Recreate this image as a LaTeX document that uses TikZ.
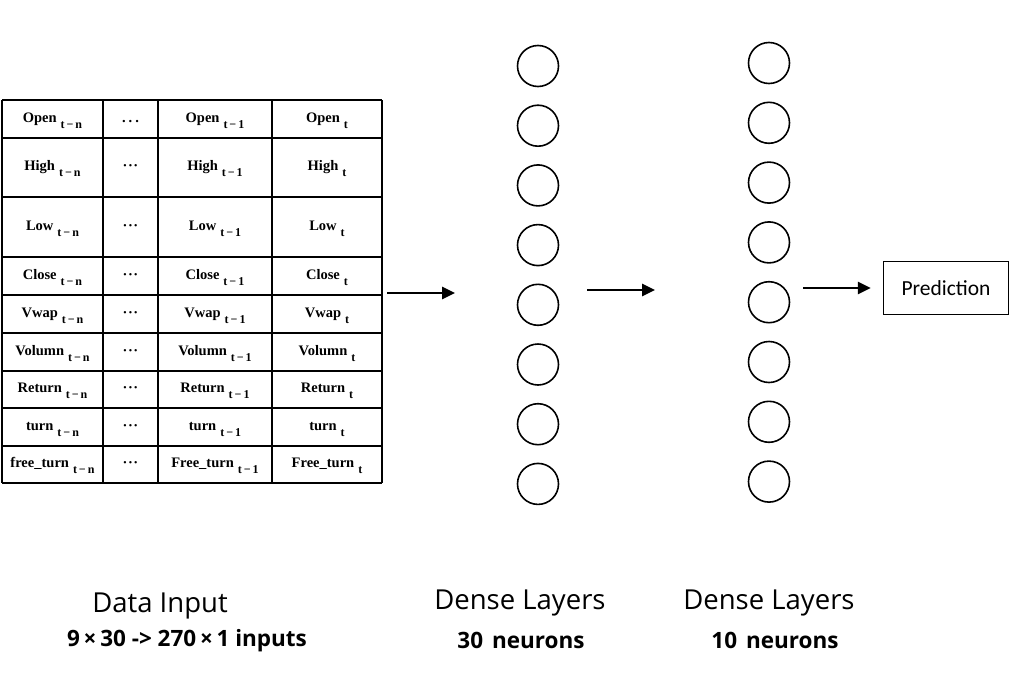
\documentclass[tikz,border=0pt]{standalone}
\usepackage{fontspec}
\setmainfont{Liberation Serif}
\newfontfamily\labelfont{Open Sans}
\newfontfamily\boxfont{Carlito}
\usetikzlibrary{arrows.meta}

\newcommand{\tsub}[1]{\hspace{4pt}\raisebox{-6pt}{\fontsize{12}{12}\selectfont\bfseries #1}}
\newcommand{\tmin}{\,−\,}
\newcommand{\dotswide}{.\hspace{3pt}.\hspace{3pt}.}
\newcommand{\dotsmid}{·\kern0.5pt·\kern0.5pt·}

\begin{document}
\begin{tikzpicture}[x=1pt, y=-1pt,
    cell/.style={anchor=base, inner sep=0pt, font=\fontsize{14.5}{16}\selectfont\bfseries},
    neuron/.style={circle, draw, line width=1.6pt, minimum size=41pt, inner sep=0pt},
    flow/.style={-{Triangle[length=13pt,width=12pt]}, line width=2.7pt},
    title/.style={anchor=base, font=\labelfont\fontsize{27.5}{32}\selectfont},
    subtitle/.style={anchor=base, font=\labelfont\bfseries\fontsize{22.5}{26}\selectfont}]
    \useasboundingbox (0,0) rectangle (1017,696);

    % input table
    \foreach \yy in {100,138,197,257,295,333,371,408,446,483}
        \draw[line width=1.3pt] (2,\yy) -- (382,\yy);
    \foreach \xx in {2,103,158,272,382}
        \draw[line width=1.3pt] (\xx,100) -- (\xx,483);
    \foreach \lab/\labb/\gap/\ya/\yz [count=\rr] in {Open/Open/\dotswide/100/138,
            High/High/\dotsmid/138/197, Low/Low/\dotsmid/197/257, Close/Close/\dotsmid/257/295,
            Vwap/Vwap/\dotsmid/295/333, Volumn/Volumn/\dotsmid/333/371,
            Return/Return/\dotsmid/371/408, turn/turn/\dotsmid/408/446,
            free\_turn/Free\_turn/\dotsmid/446/483}
    {
        \pgfmathsetmacro{\yb}{(\ya+\yz)/2+3}
        \node[cell] (c\rr-1) at (52.5,\yb) {\lab\tsub{t\tmin n}};
        \node[cell] (c\rr-2) at (130.5,\yb) {\gap};
        \node[cell] (c\rr-3) at (215,\yb) {\labb\tsub{t\tmin 1}};
        \node[cell] (c\rr-4) at (327,\yb) {\labb\tsub{t}};
    }

    % dense layers
    \foreach \i in {1,...,8} {
        \node[neuron] (a\i) at (538, 66+59.7*\i-59.7) {};
        \node[neuron] (b\i) at (769, 63+59.8*\i-59.8) {};
    }

    \node[draw, line width=1.3pt, minimum width=125pt, minimum height=53pt,
        font=\boxfont\fontsize{21.5}{24}\selectfont] (pred) at (946,288) {Prediction};

    % arrows
    \coordinate (in1) at (387,293);
    \coordinate (out1) at (455,293);
    \coordinate (in2) at (587,290);
    \coordinate (out2) at (655,290);
    \coordinate (in3) at (803,288);
    \draw[flow] (in1) -- (out1);
    \draw[flow] (in2) -- (out2);
    \draw[flow, shorten >=12pt] (in3) -- (in3 -| pred.west);

    % captions
    \node[title] (intitle) at (160,612) {Data Input};
    \node[subtitle] (insub) at (187,646) {9\,×\,30 -> 270\,×\,1 inputs};
    \node[title] (atitle) at (520,609) {Dense Layers};
    \node[subtitle] (asub) at (521,648) {30\hspace{3pt} neurons};
    \node[title] (btitle) at (769,609) {Dense Layers};
    \node[subtitle] (bsub) at (775,648) {10\hspace{3pt} neurons};
\end{tikzpicture}
\end{document}
